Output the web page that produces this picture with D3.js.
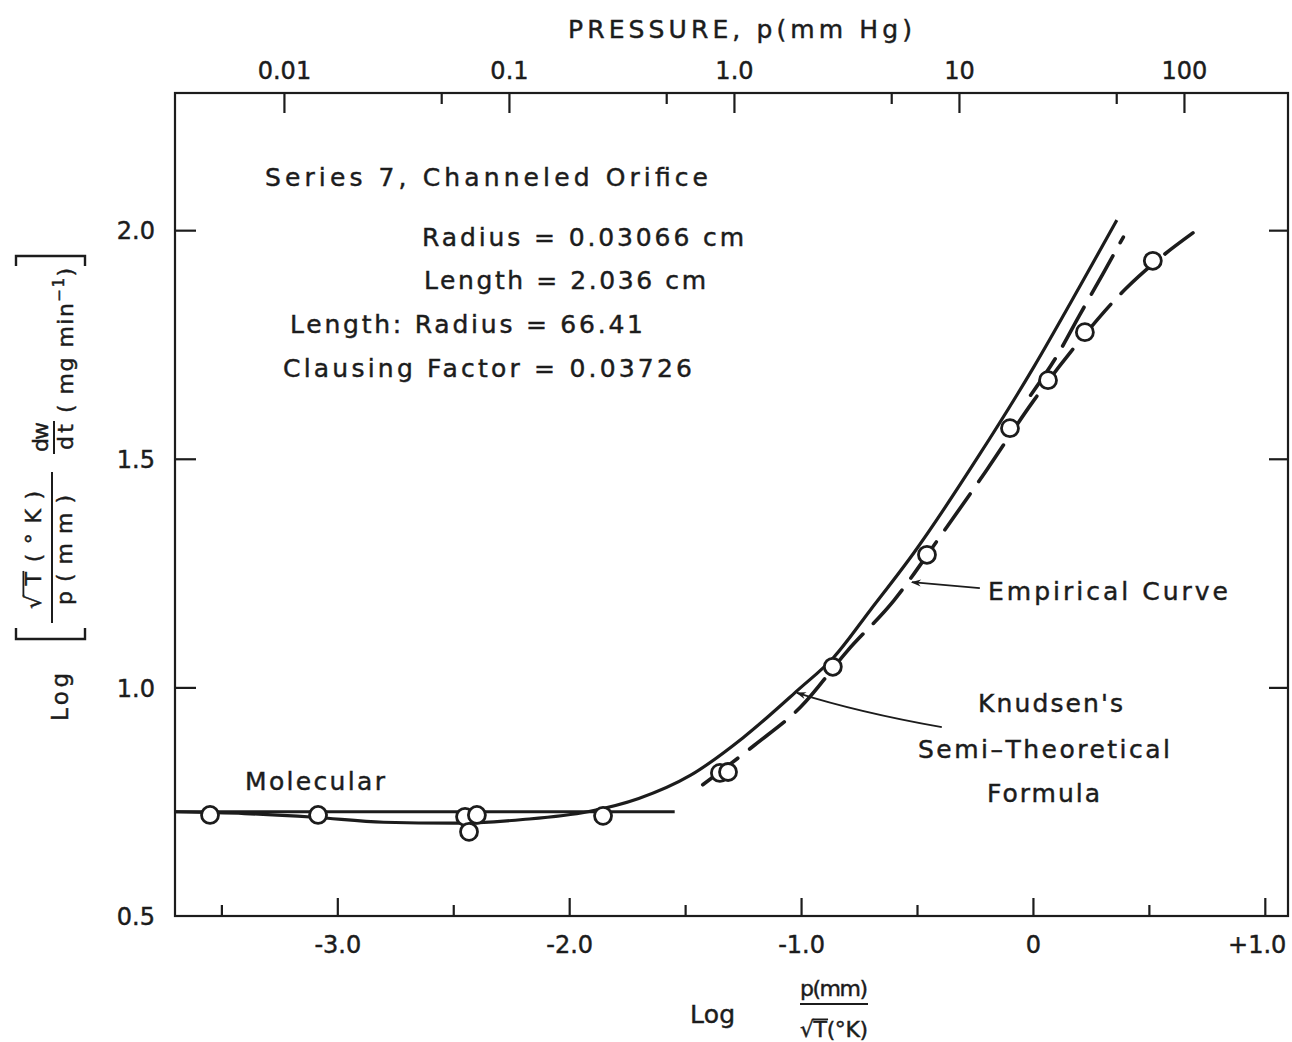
<!DOCTYPE html>
<html>
<head>
<meta charset="utf-8">
<script src="https://cdn.jsdelivr.net/npm/d3@7"></script>
<style>
  body { margin: 0; background: #fff; }
  svg { display: block; }
  text { font-family: "DejaVu Sans", "Noto Sans", sans-serif; fill: #1c1c1c; stroke: #1c1c1c; stroke-width: 0.45px; }
</style>
</head>
<body>
<svg id="chart" width="1292" height="1042"></svg>
<script>
// data: x = log(p/sqrtT), y = log(sqrtT/p * dw/dt)
const knudsenX = [-3.70, -3.4, -3.1, -2.8, -2.5, -2.2, -1.92, -1.7, -1.476, -1.25, -1.014, -0.859, -0.7, -0.514, -0.237, 0.004, 0.2, 0.362];
const knudsenY = [0.728, 0.724, 0.716, 0.705, 0.703, 0.711, 0.728, 0.757, 0.808, 0.89, 0.994, 1.066, 1.17, 1.294, 1.504, 1.701, 1.875, 2.022];

const molecularX = [-3.70, -1.545];
const molecularY = [0.728, 0.728];

const empiricalX = [-1.424, -1.2, -1.0, -0.8, -0.6, -0.4, -0.2, 0.0, 0.2, 0.4, 0.55, 0.69];
const empiricalY = [0.787, 0.874, 0.958, 1.08, 1.19, 1.33, 1.475, 1.625, 1.757, 1.872, 1.94, 1.994];

// second long-dashed branch leaving the empirical curve near the top
const branchX = [-0.01, 0.1, 0.2, 0.3, 0.39];
const branchY = [1.639, 1.722, 1.813, 1.903, 1.985];

const pointsX = [-3.549, -3.083, -2.449, -2.398, -2.432, -1.854, -1.350, -1.315, -0.863, -0.457, -0.099, 0.065, 0.224, 0.517];
const pointsY = [0.721, 0.721, 0.717, 0.721, 0.684, 0.719, 0.813, 0.815, 1.045, 1.290, 1.567, 1.672, 1.777, 1.933];

const bottomTicks = [-3.0, -2.0, -1.0, 0, 1.0];
const bottomLabels = ["-3.0", "-2.0", "-1.0", "0", "+1.0"];
const bottomMinor = [-3.5, -2.5, -1.5, -0.5, 0.5];

const topTicks = [0.01, 0.1, 1, 10, 100];
const topLabels = ["0.01", "0.1", "1.0", "10", "100"];
const topMinor = [0.05, 0.5, 5, 50];

const yTicks = [1.0, 1.5, 2.0];
const yLabelVals = [0.5, 1.0, 1.5, 2.0];
const yLabels = ["0.5", "1.0", "1.5", "2.0"];

const svg = d3.select("#chart");
const margin = {left: 175, top: 93};
const w = 1113, h = 823;
const ink = "#1c1c1c";

const x = d3.scaleLinear().domain([-3.70, 1.10]).range([0, w]);
const y = d3.scaleLinear().domain([0.5, 2.3]).range([h, 0]);
const xTop = d3.scaleLog().domain([0.00328, 290]).range([0, w]);

const g = svg.append("g").attr("transform", `translate(${margin.left},${margin.top})`);

// 边框
g.append("rect")
  .attr("width", w).attr("height", h)
  .attr("fill", "none").attr("stroke", ink).attr("stroke-width", 2.2);

function styleAxis(sel) {
  sel.select(".domain").remove();
  sel.selectAll("line").attr("stroke", ink).attr("stroke-width", 2.2);
  sel.selectAll("text").style("font-size", "24px").attr("fill", ink);
}

// bottom axis
const bAx = g.append("g").attr("transform", `translate(0,${h})`)
  .call(d3.axisBottom(x).tickValues(bottomTicks).tickSize(-18)
    .tickFormat((d, i) => bottomLabels[i]));
styleAxis(bAx);
bAx.selectAll("text").attr("y", 37).attr("dy", 0);
// 最右边的 +1.0 往左收一点，免得被裁掉
bAx.selectAll("text").filter(d => d === 1.0)
  .attr("text-anchor", "end").attr("x", 21);
g.append("g").attr("transform", `translate(0,${h})`)
  .call(d3.axisBottom(x).tickValues(bottomMinor).tickSize(-11).tickFormat(""))
  .call(styleAxis);

// top axis (pressure)
const tAx = g.append("g")
  .call(d3.axisTop(xTop).tickValues(topTicks).tickSize(-20)
    .tickFormat((d, i) => topLabels[i]));
styleAxis(tAx);
tAx.selectAll("text").attr("y", -14).attr("dy", 0);
g.append("g")
  .call(d3.axisTop(xTop).tickValues(topMinor).tickSize(-11).tickFormat(""))
  .call(styleAxis);

// left axis
const lAx = g.append("g")
  .call(d3.axisLeft(y).tickValues(yLabelVals).tickSize(0)
    .tickFormat((d, i) => yLabels[i]));
styleAxis(lAx);
lAx.selectAll("text").attr("x", -20).attr("dy", "0.36em");
g.append("g")
  .call(d3.axisLeft(y).tickValues(yTicks).tickSize(-21).tickFormat(""))
  .call(styleAxis);
// right axis
g.append("g").attr("transform", `translate(${w},0)`)
  .call(d3.axisRight(y).tickValues(yTicks).tickSize(-19).tickFormat(""))
  .call(styleAxis);

// curves
const line = d3.line().x(d => x(d[0])).y(d => y(d[1])).curve(d3.curveMonotoneX);
const zip = (xs, ys) => xs.map((v, i) => [v, ys[i]]);

g.append("path").datum(zip(molecularX, molecularY))
  .attr("d", line).attr("fill", "none").attr("stroke", ink).attr("stroke-width", 3.2);
g.append("path").datum(zip(knudsenX, knudsenY))
  .attr("d", line).attr("fill", "none").attr("stroke", ink).attr("stroke-width", 3.2);
g.append("path").datum(zip(empiricalX, empiricalY))
  .attr("d", line).attr("fill", "none").attr("stroke", ink).attr("stroke-width", 3.6)
  .attr("stroke-dasharray", "44,15").attr("stroke-linecap", "round");
g.append("path").datum(zip(branchX, branchY))
  .attr("d", line).attr("fill", "none").attr("stroke", ink).attr("stroke-width", 3.6)
  .attr("stroke-dasharray", "44,15").attr("stroke-linecap", "round");

// data points
g.selectAll(".pt").data(zip(pointsX, pointsY)).enter().append("circle")
  .attr("class", "pt")
  .attr("cx", d => x(d[0])).attr("cy", d => y(d[1])).attr("r", 8.5)
  .attr("fill", "#fff").attr("stroke", ink).attr("stroke-width", 2.8);

// arrows
svg.append("defs").append("marker")
  .attr("id", "arr").attr("viewBox", "0 0 10 10").attr("refX", 9).attr("refY", 5)
  .attr("markerWidth", 14).attr("markerHeight", 10).attr("markerUnits", "userSpaceOnUse")
  .attr("orient", "auto")
  .append("path").attr("d", "M0,1.5 L10,5 L0,8.5 L3,5 Z").attr("fill", ink);

g.append("path")
  .attr("d", `M${x(-0.229)},${y(1.217)} L${x(-0.522)},${y(1.230)}`)
  .attr("fill", "none").attr("stroke", ink).attr("stroke-width", 1.8)
  .attr("marker-end", "url(#arr)");
g.append("path")
  .attr("d", `M${x(-0.393)},${y(0.913)} Q${x(-0.75)},${y(0.945)} ${x(-1.018)},${y(0.988)}`)
  .attr("fill", "none").attr("stroke", ink).attr("stroke-width", 1.8)
  .attr("marker-end", "url(#arr)");

// text helper
function label(parent, txt, x0, yb, size, len, anchor) {
  const t = parent.append("text").attr("x", x0).attr("y", yb)
    .style("font-size", size + "px").attr("text-anchor", anchor || "start").text(txt);
  if (len) t.attr("textLength", len).attr("lengthAdjust", "spacing");
  return t;
}

// sqrt T (°K) with overbar
function sqrtT(parent, cx, yb, size, len) {
  const t = parent.append("text").attr("x", cx).attr("y", yb)
    .style("font-size", size + "px").attr("text-anchor", "middle").text("√T(°K)");
  if (len) t.attr("textLength", len).attr("lengthAdjust", "spacing");
  const node = t.node();
  const ext0 = node.getExtentOfChar(0), ext1 = node.getExtentOfChar(1);
  parent.append("line")
    .attr("x1", ext0.x + ext0.width - 1.5).attr("x2", ext1.x + ext1.width + 1)
    .attr("y1", yb - size * 0.80).attr("y2", yb - size * 0.80)
    .attr("stroke", ink).attr("stroke-width", 1.8);
}

// annotations
label(svg, "PRESSURE,  p(mm Hg)", 568, 38, 25, 344);
label(svg, "Series 7,  Channeled   Orifice", 265, 186, 25, 443);
label(svg, "Radius  =  0.03066  cm", 422, 246, 25, 322);
label(svg, "Length  =  2.036  cm", 424, 289, 25, 282);
label(svg, "Length:  Radius  =  66.41", 290, 333, 25, 353);
label(svg, "Clausing  Factor  =  0.03726", 283, 377, 25, 409);
label(svg, "Molecular", 245, 790, 25, 140);
label(svg, "Empirical   Curve", 988, 600, 25, 240);
label(svg, "Knudsen's", 978, 712, 25, 145);
label(svg, "Semi–Theoretical", 918, 758, 25, 252);
label(svg, "Formula", 987, 802, 25, 113);

// bottom axis title
label(svg, "Log", 690, 1023, 25, 45);
label(svg, "p(mm)", 834, 996, 22, 68, "middle");
svg.append("line").attr("x1", 800).attr("x2", 868).attr("y1", 1004).attr("y2", 1004)
  .attr("stroke", ink).attr("stroke-width", 2);
sqrtT(svg, 834, 1037, 22, 68);

// left axis title, rotated (local x = -screenY, local y = screenX - 51)
const yl = svg.append("g").attr("transform", "translate(51,0) rotate(-90)");
label(yl, "Log", -697, 17, 23, 48, "middle");
sqrtT(yl, -550, -10, 22, 118);
label(yl, "p(mm)", -550, 21, 22, 110, "middle");
yl.append("line").attr("x1", -623).attr("x2", -472).attr("y1", 1).attr("y2", 1)
  .attr("stroke", ink).attr("stroke-width", 2);
label(yl, "dw", -437, -3, 22, 30, "middle");
label(yl, "dt", -437, 22, 22, 26, "middle");
yl.append("line").attr("x1", -454).attr("x2", -421).attr("y1", 3).attr("y2", 3)
  .attr("stroke", ink).attr("stroke-width", 2);
const mg = yl.append("text").attr("x", -413).attr("y", 22).style("font-size", "22px")
  .attr("textLength", 145).attr("lengthAdjust", "spacing");
mg.append("tspan").text("( mg  min");
mg.append("tspan").attr("dy", -9).style("font-size", "15px").text("−1");
mg.append("tspan").attr("dy", 9).text(")");

// brackets
const br = svg.append("g").attr("fill", "none").attr("stroke", ink).attr("stroke-width", 2.4);
br.append("path").attr("d", "M16,266 L16,256 L85,256 L85,266");
br.append("path").attr("d", "M16,628 L16,639 L85,639 L85,628");
</script>
</body>
</html>
